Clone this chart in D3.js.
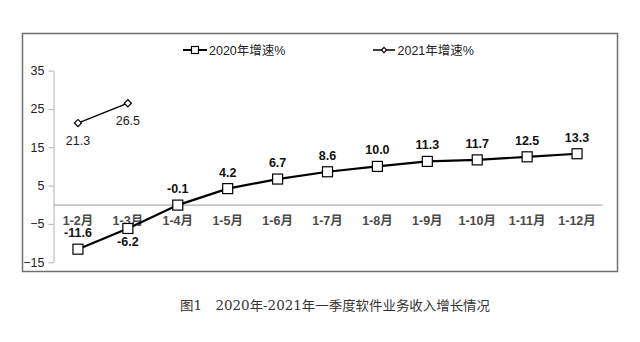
<!DOCTYPE html>
<html><head><meta charset="utf-8">
<script src="https://cdn.jsdelivr.net/npm/d3@7"></script>
<style>body{margin:0;background:#fff}</style>
</head><body>
<svg id="c" width="640" height="342"></svg>
<script>
const categories = ["1-2月","1-3月","1-4月","1-5月","1-6月","1-7月","1-8月","1-9月","1-10月","1-11月","1-12月"];
const values2020 = [-11.6,-6.2,-0.1,4.2,6.7,8.6,10.0,11.3,11.7,12.5,13.3];
const values2021 = [21.3,26.5];
const yTicks = [-15,-5,5,15,25,35];
const seriesNames = ["2020年增速%","2021年增速%"];
const caption = "图1　2020年-2021年一季度软件业务收入增长情况";

const svg = d3.select("#c");
const font = "'Liberation Sans', Arial, 'Noto Sans CJK SC', sans-serif";

// outer frame
svg.append("rect").attr("x",22.5).attr("y",33.5).attr("width",595).attr("height",238)
  .attr("fill","none").attr("stroke","#707070").attr("stroke-width",1.5);

const x = d3.scaleBand().domain(categories).range([53,602]).padding(0);
const cx = d => x(d) + x.bandwidth()/2;
const y = d3.scaleLinear().domain([-15,35]).range([262.2,70.6]);

// y axis
const yAxis = d3.axisLeft(y).tickValues(yTicks).tickSize(5).tickSizeOuter(0).tickFormat(d3.format("d"));
const ga = svg.append("g").attr("transform","translate(53.5,0)").call(yAxis);
ga.select(".domain").attr("stroke","#bdbdbd").attr("stroke-width",1.2);
ga.selectAll(".tick line").attr("stroke","#bdbdbd").attr("stroke-width",1.2);
ga.selectAll(".tick text").attr("font-family",font).attr("font-size",12.5).attr("fill","#222").attr("x",-9);

// x axis at zero
const xAxis = d3.axisBottom(x).tickSize(0).tickSizeOuter(0);
const gx = svg.append("g").attr("transform",`translate(0,${y(0)})`).call(xAxis);
gx.select(".domain").attr("stroke","#c4c4c4").attr("stroke-width",1.8);
gx.selectAll(".tick text").attr("font-family",font).attr("font-size",12.5).attr("font-weight","bold")
  .attr("fill","#4a4a4a").attr("dy","0").attr("y",20);

// lines
const line = d3.line().x((d,i)=>cx(categories[i])).y(d=>y(d));
svg.append("path").datum(values2020).attr("d",line).attr("fill","none").attr("stroke","#000").attr("stroke-width",2.2);
svg.append("path").datum(values2021).attr("d",line).attr("fill","none").attr("stroke","#000").attr("stroke-width",1.5);

// markers 2020
svg.selectAll(".sq").data(values2020).enter().append("rect")
  .attr("x",(d,i)=>cx(categories[i])-5).attr("y",d=>y(d)-5).attr("width",10).attr("height",10)
  .attr("fill","#fff").attr("stroke","#000").attr("stroke-width",1.2);
// markers 2021
const dia = d3.symbol().type(d3.symbolSquare).size(26);
svg.selectAll(".dm").data(values2021).enter().append("path")
  .attr("d",dia).attr("transform",(d,i)=>`translate(${cx(categories[i])},${y(d)}) rotate(45)`)
  .attr("fill","#fff").attr("stroke","#000").attr("stroke-width",1.2);

// labels 2020
svg.selectAll(".l20").data(values2020).enter().append("text")
  .attr("x",(d,i)=>cx(categories[i]))
  .attr("y",(d,i)=> i===0 ? y(d)-12 : (i===1 ? y(d)+18 : y(d)-12))
  .attr("text-anchor","middle").attr("font-family",font).attr("font-size",12.5).attr("font-weight","bold")
  .attr("fill","#111").text(d=>d.toFixed(1));
// labels 2021
svg.selectAll(".l21").data(values2021).enter().append("text")
  .attr("x",(d,i)=>cx(categories[i]))
  .attr("y",d=>y(d)+22)
  .attr("text-anchor","middle").attr("font-family",font).attr("font-size",12.5)
  .attr("fill","#222").text(d=>d.toFixed(1));

// legend
const lg1 = svg.append("g");
lg1.append("line").attr("x1",183).attr("x2",207).attr("y1",50).attr("y2",50).attr("stroke","#000").attr("stroke-width",2);
lg1.append("rect").attr("x",191.5).attr("y",46.5).attr("width",7).attr("height",7).attr("fill","#fff").attr("stroke","#000").attr("stroke-width",1.2);
lg1.append("text").attr("x",209).attr("y",54.5).attr("font-family",font).attr("font-size",12.5).attr("fill","#222").text(seriesNames[0]);
const lg2 = svg.append("g");
lg2.append("line").attr("x1",373).attr("x2",395).attr("y1",50).attr("y2",50).attr("stroke","#000").attr("stroke-width",1.5);
lg2.append("path").attr("d",d3.symbol().type(d3.symbolSquare).size(14)).attr("transform","translate(384,50) rotate(45)")
  .attr("fill","#fff").attr("stroke","#000").attr("stroke-width",1.1);
lg2.append("text").attr("x",397.5).attr("y",54.5).attr("font-family",font).attr("font-size",12.5).attr("fill","#222").text(seriesNames[1]);

// caption
svg.append("text").attr("x",180).attr("y",310).attr("font-family","'DejaVu Serif','Noto Sans CJK SC',serif")
  .attr("font-size",13).attr("fill","#333").attr("textLength",310).attr("lengthAdjust","spacingAndGlyphs").text(caption);
</script>
</body></html>
